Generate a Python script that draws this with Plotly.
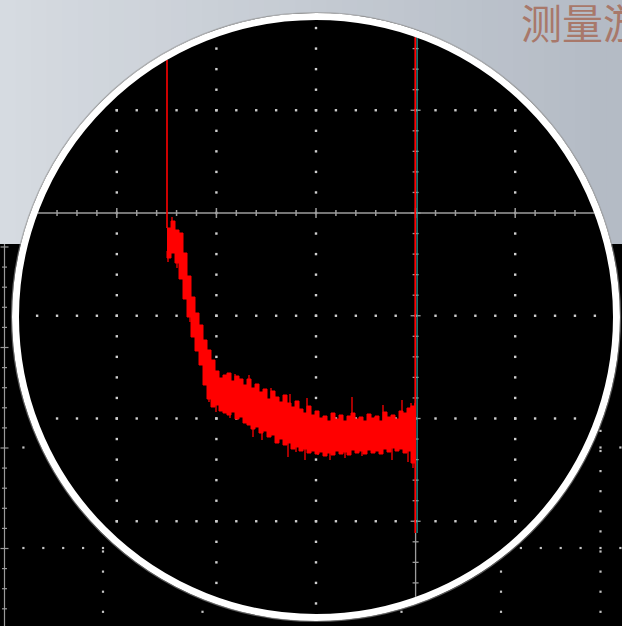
import numpy as np
import plotly.graph_objects as go

# ---------------- data (time in µs from cursor A, voltage in mV) ----------------
t_us = list(range(0, 249, 4))  # sample times along the trace
v_hi = [-15, -8, -17, -20, -40, -63, -84, -100, -112, -127, -137, -147, -158, -165,
        -162, -160, -168, -163, -166, -172, -166, -175, -171, -179, -176, -186, -178,
        -184, -189, -182, -190, -194, -188, -196, -200, -193, -202, -198, -205, -203,
        -208, -200, -206, -202, -208, -203, -200, -206, -204, -208, -201, -205, -203,
        -208, -199, -204, -202, -206, -198, -200, -195, -193, -190]
v_lo = [-38, -45, -40, -50, -66, -86, -104, -124, -138, -152, -172, -186, -194, -192,
        -198, -200, -202, -199, -206, -204, -210, -212, -216, -214, -220, -218, -224,
        -222, -230, -226, -232, -230, -236, -234, -238, -236, -240, -238, -241, -239,
        -243, -240, -242, -238, -241, -239, -242, -237, -240, -238, -241, -237, -240,
        -238, -241, -236, -239, -235, -238, -236, -240, -238, -250]
spike_up_t = [5, 68, 82, 104, 123, 140, 185, 216, 235, 244]
spike_up_v = [-4, -161, -162, -175, -181, -185, -184, -192, -187, -190]
spike_dn_t = [1, 10, 23, 42, 49, 63, 86, 95, 121, 129, 138, 151, 163, 178, 195, 225, 241, 246]
spike_dn_v = [-49, -55, -109, -189, -199, -205, -224, -227, -244, -239, -247, -242, -247,
              -245, -243, -247, -249, -255]
cursor_t = [0, 248.6]          # cursor A, cursor B
cursor_b_bottom = -320         # end of cursor B marker
title_text = "测量游标"

# ---------------- geometry of the view ----------------
W, H = 622, 626
X0, Y1 = -167, 213            # data value at left / top edge
XR = [X0, X0 + W]
YR = [Y1 - H, Y1]
CX, CY = 149, -104            # magnifier centre
R_OUT, R_IN = 304, 297
DIVX, DIVY = 99.6, 102.75


def chord(c, r, along_center, other_center):
    d = abs(c - other_center)
    if d >= r:
        return None
    h = np.sqrt(r * r - d * d)
    return along_center - h, along_center + h


fig = go.Figure()

# ---------------- background ----------------
shapes = []
N = 40
c0 = np.array([214, 219, 225])
c1 = np.array([180, 187, 197])
for i in range(N):
    c = (c0 + (c1 - c0) * (i / (N - 1))).astype(int)
    shapes.append(dict(type="rect", xref="paper", yref="paper",
                       x0=i / N, x1=(i + 1) / N + 0.002, y0=(H - 244) / H, y1=1,
                       fillcolor=f"rgb({c[0]},{c[1]},{c[2]})", line_width=0, layer="below"))
shapes.append(dict(type="rect", xref="paper", yref="paper", x0=0, x1=1, y0=0,
                   y1=(H - 244) / H, fillcolor="black", line_width=0, layer="below"))
shapes.append(dict(type="circle", xref="x", yref="y",
                   x0=CX - R_OUT, x1=CX + R_OUT, y0=CY - R_OUT, y1=CY + R_OUT,
                   fillcolor="black", line_width=0, layer="below"))

# ---------------- outer (unmagnified) grid ----------------
ox, oy = [], []
vx_out = [103 + 99.5 * k for k in range(6)]
hy_out = [347, 447.5, 548]
for px in vx_out:
    for py in np.arange(250, H, 20.1):
        ox.append(px); oy.append(py)
for py in hy_out:
    for px in np.arange(103 - 99.5, W, 19.9):
        ox.append(px); oy.append(py)
ox2, oy2 = [], []
for px, py in zip(ox, oy):
    tx, ty = px + X0, Y1 - py
    if py > 247 and np.hypot(tx - CX, ty - CY) > R_OUT + 2 and px > 10:
        ox2.append(tx); oy2.append(ty)
fig.add_trace(go.Scatter(x=ox2, y=oy2, mode="markers",
                         marker=dict(symbol="square", size=2.2, color="#c4c4c4", line_width=0),
                         hoverinfo="skip", showlegend=False))

# outer left axis
ax_x = 4.5 + X0
lx = [ax_x, ax_x, None]
ly = [Y1 - 244, Y1 - H, None]
for j, py in enumerate(np.arange(247, H, 20.1)):
    L = 4 if j % 5 == 0 else 2.5
    lx += [ax_x - L, ax_x + L, None]
    ly += [Y1 - py, Y1 - py, None]
fig.add_trace(go.Scatter(x=lx, y=ly, mode="lines", line=dict(color="#9a9a9a", width=1.2),
                         hoverinfo="skip", showlegend=False))

# ---------------- inner (magnified) grid ----------------
gx, gy = [], []
v_lines = [CX + DIVX * k for k in (-3, -2, -1, 0, 2)]
h_lines = [-DIVY * k for k in (-1, 1, 2, 3)]
for x in v_lines:
    for y in np.arange(-DIVY * 4, DIVY * 2, DIVY / 5):
        gx.append(x); gy.append(y)
for y in h_lines:
    for x in np.arange(CX - DIVX * 3, CX + DIVX * 3.1, DIVX / 5):
        gx.append(x); gy.append(y)
gx2, gy2 = [], []
for x, y in zip(gx, gy):
    if np.hypot(x - CX, y - CY) < R_IN - 3:
        gx2.append(x); gy2.append(y)
fig.add_trace(go.Scatter(x=gx2, y=gy2, mode="markers",
                         marker=dict(symbol="square", size=2.4, color="#cfcfcf", line_width=0),
                         hoverinfo="skip", showlegend=False))

# horizontal axis (v = 0) with ticks
a, b = chord(0, R_IN, CX, CY)
hx = [a, b, None]
hy = [0, 0, None]
for k, x in enumerate(np.arange(CX - DIVX * 3, CX + DIVX * 3.1, DIVX / 5)):
    if a + 2 < x < b - 2:
        L = 5 if k % 5 == 0 else 3
        hx += [x, x, None]
        hy += [-L, L, None]
fig.add_trace(go.Scatter(x=hx, y=hy, mode="lines", line=dict(color="#9c9c9c", width=1.5),
                         hoverinfo="skip", showlegend=False))

# vertical axis at cursor B position with ticks
va, vb = chord(cursor_t[1], R_IN, CY, CX)
vx = [cursor_t[1], cursor_t[1], None]
vy = [va, vb, None]
for k, y in enumerate(np.arange(-DIVY * 4, DIVY * 2, DIVY / 5)):
    if va + 2 < y < vb - 2:
        L = 5 if k % 5 == 0 else 3
        vx += [cursor_t[1] - L, cursor_t[1] + L, None]
        vy += [y, y, None]
fig.add_trace(go.Scatter(x=vx, y=vy, mode="lines", line=dict(color="#9c9c9c", width=1.3),
                         hoverinfo="skip", showlegend=False))

# ---------------- signal trace ----------------
fig.add_trace(go.Scatter(x=t_us + t_us[::-1], y=v_hi + v_lo[::-1], mode="lines",
                         fill="toself", fillcolor="#ff0000", line_shape="hv",
                         line=dict(color="#ff0000", width=1),
                         hoverinfo="skip", showlegend=False))
mid = (np.array(v_hi) + np.array(v_lo)) / 2
sx, sy = [], []
for t, v in zip(spike_up_t + spike_dn_t, spike_up_v + spike_dn_v):
    sx += [t, t, None]
    sy += [v, float(np.interp(t, t_us, mid)), None]
fig.add_trace(go.Scatter(x=sx, y=sy, mode="lines", line=dict(color="#ff0000", width=1.3),
                         hoverinfo="skip", showlegend=False))

# ---------------- cursors ----------------
_, topA = chord(cursor_t[0], R_IN, CY, CX)
_, topB = chord(cursor_t[1], R_IN, CY, CX)
fig.add_trace(go.Scatter(x=[cursor_t[1] + 1.6, cursor_t[1] + 1.6], y=[topB, cursor_b_bottom],
                         mode="lines", line=dict(color="#2aa6a6", width=1),
                         hoverinfo="skip", showlegend=False))
fig.add_trace(go.Scatter(x=[cursor_t[0], cursor_t[0], None, cursor_t[1] - 0.4, cursor_t[1] - 0.4],
                         y=[topA, v_hi[0], None, topB, cursor_b_bottom],
                         mode="lines", line=dict(color="#ff0000", width=1.6),
                         hoverinfo="skip", showlegend=False))

# ---------------- magnifier ring ----------------
rm = (R_OUT + R_IN) / 2
shapes.append(dict(type="circle", xref="x", yref="y",
                   x0=CX - rm, x1=CX + rm, y0=CY - rm, y1=CY + rm,
                   fillcolor="rgba(0,0,0,0)", line=dict(color="white", width=7), layer="above"))
shapes.append(dict(type="circle", xref="x", yref="y",
                   x0=CX - R_OUT - 0.5, x1=CX + R_OUT + 0.5, y0=CY - R_OUT - 0.5, y1=CY + R_OUT + 0.5,
                   fillcolor="rgba(0,0,0,0)", line=dict(color="rgba(150,150,150,0.6)", width=1.2),
                   layer="above"))

fig.update_layout(
    width=W, height=H, margin=dict(l=0, r=0, t=0, b=0),
    paper_bgcolor="rgb(205,211,218)", plot_bgcolor="rgba(0,0,0,0)",
    xaxis=dict(range=XR, visible=False, fixedrange=True),
    yaxis=dict(range=YR, visible=False, fixedrange=True),
    shapes=shapes, showlegend=False,
    annotations=[dict(text=title_text, xref="paper", yref="paper",
                      x=519 / W, y=1 + 11 / H, xanchor="left", yanchor="top",
                      showarrow=False,
                      font=dict(family="Noto Sans CJK SC", size=41, color="#a8786a"))],
)

fig.write_html("out.html", config={"displayModeBar": False, "staticPlot": True},
               post_script="document.body.style.margin='0';document.body.style.overflow='hidden';")
